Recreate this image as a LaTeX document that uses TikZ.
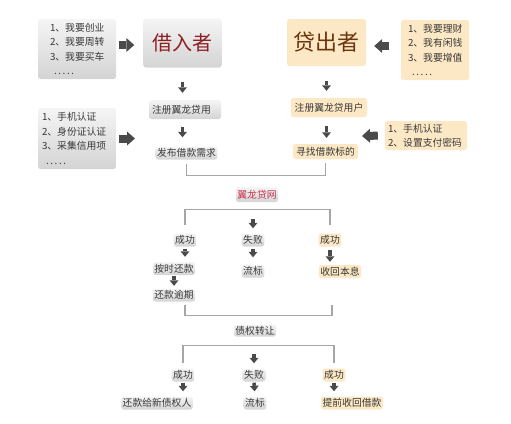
\documentclass[tikz,border=0pt]{standalone}
\usepackage{fontspec}
\newfontfamily\cjk{Noto Sans CJK SC}
\usetikzlibrary{arrows.meta,calc}
\definecolor{ctan}{HTML}{FCE8C4}
\definecolor{ctxt}{HTML}{383838}
\definecolor{cborrow}{HTML}{8E1F22}
\definecolor{clend}{HTML}{6B3510}
\definecolor{cweb}{HTML}{C8324E}
\definecolor{carr}{HTML}{4A4A4A}
\definecolor{cline}{HTML}{A6A6A6}
\newcommand{\etc}{\hspace*{4pt}.\,.\,.\,.\,.}

\begin{document}
\begin{tikzpicture}[x=1pt,y=-1pt,
  gbox/.style={rounded corners=2.5pt,top color=white!96!black,bottom color=white!83!black},
  tbox/.style={rounded corners=2.5pt,fill=ctan},
  lst/.style={font=\cjk\fontsize{9.8}{14.4}\selectfont,text=ctxt,align=left,inner ysep=0pt},
  lbl/.style={font=\cjk\fontsize{9.8}{11}\selectfont,text=ctxt,inner xsep=1.5pt,inner ysep=0pt,minimum height=13pt},
  role/.style={inner sep=0pt,minimum width=78pt,minimum height=49pt},
  blk/.style={carr,line width=8pt,-{Triangle[width=14pt,length=8pt,line width=0pt]}},
  arr/.style={carr,line width=3.6pt,-{Triangle[width=9pt,length=5.5pt,line width=0pt]}},
  brk/.style={cline,line width=1.3pt}]
  \useasboundingbox (0,0) rectangle (511,423);

  % borrower side
  \node[gbox,lst,text width=54pt,inner xsep=12pt,minimum height=60pt] (need) at (77,49)
    {1、我要创业\\2、我要周转\\3、我要买车\\\etc};
  \node[gbox,role,text=cborrow,font=\cjk\fontsize{20}{24}\selectfont] (borrow) at (182.5,43) {借入者};
  \node[gbox,lbl,minimum height=19pt,text width=66pt,align=left,inner xsep=3pt] (reg) at (185,109.5) {注册翼龙贷用};
  \node[gbox,lbl,minimum width=61pt] (post) at (186.5,153) {发布借款需求};
  \node[gbox,lst,text width=70pt,inner xsep=4pt,minimum height=61pt] (auth) at (77,138.5)
    {1、手机认证\\2、身份证认证\\3、采集信用项\\\etc};

  % lender side
  \node[tbox,role,minimum width=79pt,minimum height=47pt,text=clend,font=\cjk\fontsize{22}{26}\selectfont] (lend) at (326.5,42.5) {贷出者};
  \node[tbox,lst,text width=54pt,inner xsep=7pt,minimum height=60pt] (gain) at (435,50)
    {1、我要理财\\2、我有闲钱\\3、我要增值\\\etc};
  \node[tbox,lbl,minimum width=76pt,minimum height=19pt] (regl) at (329,107.5) {注册翼龙贷用户};
  \node[tbox,lbl,minimum width=65pt,minimum height=15pt] (seek) at (325.5,151.5) {寻找借款标的};
  \node[tbox,lst,text width=76pt,inner xsep=3pt,minimum height=29pt] (authl) at (426,135.5)
    {1、手机认证\\2、设置支付密码};
  \coordinate (in1) at (135,138.5);
  \coordinate (in2) at (362,136);

  % platform
  \node[gbox,lbl,text=cweb,minimum height=15pt] (ylw) at (257,194.5) {翼龙贷网};
  \node[gbox,lbl] (ok1) at (185,240) {成功};
  \node[gbox,lbl] (fail1) at (253,240) {失败};
  \node[tbox,lbl] (ok2) at (330,240) {成功};
  \node[gbox,lbl] (ontime) at (174,268.5) {按时还款};
  \node[gbox,lbl] (flow1) at (253,271) {流标};
  \node[tbox,lbl] (back) at (340,271.5) {收回本息};
  \node[gbox,lbl] (late) at (174,295) {还款逾期};
  \node[gbox,lbl,minimum height=12pt] (trans) at (255,330.5) {债权转让};
  \node[gbox,lbl] (ok3) at (183,375) {成功};
  \node[gbox,lbl] (fail2) at (254,375) {失败};
  \node[tbox,lbl] (ok4) at (334,375) {成功};
  \node[gbox,lbl] (newc) at (157,403) {还款给新债权人};
  \node[gbox,lbl] (flow2) at (255,403) {流标};
  \node[tbox,lbl] (early) at (352,403) {提前收回借款};

  % block arrows
  \draw[blk,shorten <=3pt,shorten >=9pt] ($(need.east |- borrow)+(0,2)$) -- ($(borrow.west)+(0,2)$);
  \draw[blk,shorten <=3pt] (auth.east) -- (in1);
  \draw[blk,shorten <=12pt,shorten >=8pt] ($(gain.west |- lend)+(0,3.5)$) -- ($(lend.east)+(0,3.5)$);
  \draw[blk,shorten <=7pt] (authl.west) -- (in2);

  % down arrows
  \draw[arr,shorten <=14pt,shorten >=7pt] (borrow.south) -- (borrow.south |- reg.north);
  \draw[arr,shorten <=8pt,shorten >=9pt] (reg.south -| borrow) -- (post.north -| borrow);
  \draw[arr,shorten <=15pt,shorten >=7pt] (lend.south) -- (lend.south |- regl.north);
  \draw[arr,shorten <=9pt,shorten >=6pt] (regl.south -| lend) -- (seek.north -| lend);
  \draw[arr,shorten <=17pt,shorten >=5pt] (fail1 |- ylw.south) -- (fail1.north);
  \draw[arr,shorten <=2pt,shorten >=5pt] (ok1.south) -- (ok1.south |- ontime.north);
  \draw[arr,shorten <=1pt,shorten >=2.5pt] (ontime.south) -- (late.north);
  \draw[arr,shorten <=2pt,shorten >=7pt] (fail1.south) -- (flow1.north);
  \draw[arr,shorten <=3.5pt,shorten >=3pt] (ok2.south) -- (ok2.south |- back.north);
  \draw[arr,shorten <=17pt,shorten >=5pt] (fail2 |- trans.south) -- (fail2.north);
  \draw[arr,shorten <=1pt,shorten >=5pt] (ok3.south) -- (ok3.south |- newc.north);
  \draw[arr,shorten <=1pt,shorten >=5pt] (fail2.south) -- (flow2.north);
  \draw[arr,shorten <=1pt,shorten >=5pt] (ok4.south) -- (ok4.south |- early.north);

  % brackets
  \draw[brk,shorten <=4pt,shorten >=4pt] (post.south) -- ++(0,16) -| (seek.south);
  \draw[brk,shorten <=8pt,shorten >=8pt] (ok1.north) -- ++(0,-24) -| (ok2.north);
  \draw[brk] (late.south -| ok1) ++(0,3) -- ++(0,11) -| ++(147,-11);
  \draw[brk,shorten <=5pt,shorten >=5pt] (ok3.north) -- ++(0,-23) -| (ok4.north);
\end{tikzpicture}
\end{document}
